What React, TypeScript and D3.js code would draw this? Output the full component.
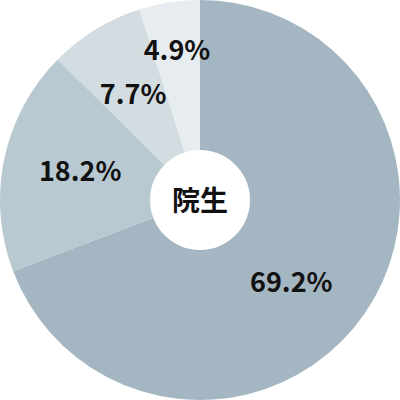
import * as d3 from 'd3';

const categories = ['A', 'B', 'C', 'D'];
const values = [69.2, 18.2, 7.7, 4.9];
const labels = ['69.2%', '18.2%', '7.7%', '4.9%'];
const colors = ['#a4b6c1', '#b9c9d1', '#d2dce1', '#e6ecef'];
const centerText = '院生';

const W = 400;
const H = 400;

export default function App() {
  const cx = W / 2;
  const cy = H / 2;
  const radius = 200;
  const hole = 50;

  const pie = d3.pie<number>().sort(null).value(d => d);
  const arcs = pie(values);
  const arc = d3.arc<d3.PieArcDatum<number>>().innerRadius(0).outerRadius(radius);

  // label radius / angle nudge per slice
  const labelR = [124, 123, 124, 150];
  const labelNudge = [0.14, 0.02, -0.02, 0];

  return (
    <svg width={W} height={H} style={{ position: 'absolute', left: 0, top: 0, display: 'block' }}>
      <g transform={`translate(${cx},${cy})`}>
        {arcs.map((a, i) => (
          <path key={categories[i]} d={arc(a) || ''} fill={colors[i]} />
        ))}
        {arcs.map((a, i) => {
          const ang = (a.startAngle + a.endAngle) / 2 + labelNudge[i];
          const x = labelR[i] * Math.sin(ang);
          const y = -labelR[i] * Math.cos(ang) - 3;
          return (
            <text
              key={'l' + i}
              x={x}
              y={y}
              textAnchor="middle"
              dominantBaseline="central"
              fontFamily="'Noto Sans CJK JP', 'Noto Sans', sans-serif"
              fontWeight="bold"
              fontSize={27}
              fill="#111"
            >
              {labels[i]}
            </text>
          );
        })}
        <circle r={hole} fill="#fff" />
        <text
          y={-1}
          textAnchor="middle"
          dominantBaseline="central"
          fontFamily="'Noto Sans CJK JP', sans-serif"
          fontWeight="bold"
          fontSize={28}
          fill="#111"
        >
          {centerText}
        </text>
      </g>
    </svg>
  );
}
